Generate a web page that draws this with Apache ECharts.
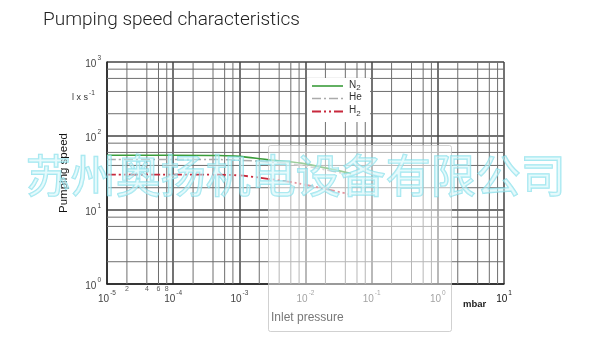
<!DOCTYPE html>
<html>
<head>
<meta charset="utf-8">
<script src="https://cdn.jsdelivr.net/npm/echarts@6/dist/echarts.min.js"></script>
<style>
html,body{margin:0;padding:0;background:#fff;}
#chart{width:595px;height:356px;}
</style>
</head>
<body>
<div id="chart"></div>
<script>
// ---- data ----
const pressureN2 = [1e-5, 1e-4, 5e-4, 1e-3, 2.6e-3, 8.6e-3, 0.049];
const speedN2    = [55, 55, 54.5, 53, 48, 43, 31];
const pressureHe = [1e-5, 1e-4, 5e-4, 1e-3, 2.7e-3, 8e-3, 0.03, 0.042];
const speedHe    = [48, 48, 48, 47, 45, 40.5, 32.5, 30.5];
const pressureH2 = [1e-5, 1e-4, 5e-4, 1e-3, 2e-3, 8e-3, 0.044];
const speedH2    = [30, 30, 30, 29.3, 27.4, 22.8, 16.5];
const seriesNames = ['N2', 'He', 'H2'];
const xTickExponents = ['-5', '-4', '-3', '-2', '-1', '0', '1'];
const yTickExponents = ['0', '1', '2', '3'];
const xDecades = [-5, -4, -3, -2, -1, 0];
const yDecades = [0, 1, 2];
const minorFactors = [2, 4, 6, 8];
const minorLabelValues = [2e-5, 4e-5, 6e-5, 8e-5];
const minorLabels = ['2', '4', '6', '8'];
const titleText = 'Pumping speed characteristics';
const yName = 'Pumping speed';
const unitText = 'l x s';
const unitSup = '-1';
const xUnit = 'mbar';
const overlayText = 'Inlet pressure';
const watermark = '苏州奥扬机电设备有限公司';

const X_MIN = 1e-5, X_MAX = 10, Y_MIN = 1, Y_MAX = 1000;
const colors = { N2: '#3b9d3b', He: '#aaaaaa', H2: '#c8283c' };
const dashes = { N2: null, He: [9, 3, 2, 3], H2: [9, 3, 2, 3, 2, 3] };
const widths = { N2: 1.6, He: 1.5, H2: 1.8 };

function zip(a, b) { return a.map((v, i) => [v, b[i]]); }
function expOf(v) { return Math.round(Math.log10(v)); }

const xMinor = [];
xDecades.forEach(d => minorFactors.forEach(f => xMinor.push(f * Math.pow(10, d))));
const yMinor = [];
yDecades.forEach(d => minorFactors.forEach(f => yMinor.push(f * Math.pow(10, d))));

const series = [];
function minorLine(data) {
  return {
    type: 'line', data: data, symbol: 'none', silent: true, z: 1,
    lineStyle: { color: '#6e6e6e', width: 1, type: 'solid' }
  };
}
xMinor.forEach(v => series.push(minorLine([[v, Y_MIN], [v, Y_MAX]])));
yMinor.forEach(v => series.push(minorLine([[X_MIN, v], [X_MAX, v]])));
series.push({
  type: 'scatter', data: minorLabelValues.map((v, i) => [v, Y_MIN, minorLabels[i]]),
  symbolSize: 1, itemStyle: { color: 'transparent' }, silent: true, z: 3,
  label: { show: true, position: 'bottom', distance: 1, formatter: p => p.data[2],
    fontSize: 7, color: '#333', fontFamily: 'Liberation Sans' }
});
const curves = { N2: zip(pressureN2, speedN2), He: zip(pressureHe, speedHe), H2: zip(pressureH2, speedH2) };
seriesNames.forEach((n, i) => series.push({
  name: n, type: 'line', data: curves[n], smooth: 0.3, symbol: 'none', z: i === 0 ? 5 : 4,
  lineStyle: { color: colors[n], width: widths[n], type: dashes[n] || 'solid' }
}));

const supRich = {
  b: { fontSize: 10, color: '#444', fontFamily: 'Liberation Sans', verticalAlign: 'bottom', lineHeight: 14 },
  s: { fontSize: 6.5, color: '#444', fontFamily: 'Liberation Sans', verticalAlign: 'top', lineHeight: 14, padding: [0, 0, 0, 1] },
  bk: { fontSize: 10, color: '#111', fontFamily: 'Liberation Sans', verticalAlign: 'bottom', lineHeight: 14 },
  sk: { fontSize: 6.5, color: '#111', fontFamily: 'Liberation Sans', verticalAlign: 'top', lineHeight: 14, padding: [0, 0, 0, 1] }
};

// legend drawn as graphic
const legendGraphics = [
  { type: 'rect', z: 50, shape: { x: 307, y: 78, width: 63, height: 44 }, style: { fill: '#fff' } }
];
const legendRowsY = [86, 98.5, 111.5];
seriesNames.forEach((n, i) => {
  legendGraphics.push({
    type: 'line', z: 51,
    shape: { x1: 312, y1: legendRowsY[i], x2: 343, y2: legendRowsY[i] },
    style: { stroke: colors[n], lineWidth: widths[n], lineDash: dashes[n] }
  });
  legendGraphics.push({
    type: 'text', z: 51, x: 349, y: legendRowsY[i],
    style: {
      text: n.length === 2 && n[1] === '2' ? '{m|' + n[0] + '}{sub|2}' : '{m|' + n + '}',
      verticalAlign: 'middle',
      rich: {
        m: { fontSize: 10, fill: '#333', fontFamily: 'Liberation Sans', verticalAlign: 'top', lineHeight: 12 },
        sub: { fontSize: 8, fill: '#333', fontFamily: 'Liberation Sans', verticalAlign: 'bottom', lineHeight: 12 }
      }
    }
  });
});

const chart = echarts.init(document.getElementById('chart'), null, { renderer: 'canvas' });

const option = {
  animation: false,
  backgroundColor: '#fff',
  grid: { left: 107, right: 91, top: 62, bottom: 72, containLabel: false },
  xAxis: {
    type: 'log', logBase: 10, min: X_MIN, max: X_MAX, splitNumber: 6,
    axisLine: { show: true, lineStyle: { color: '#222', width: 1.5 } },
    axisTick: { show: false },
    splitLine: { show: true, lineStyle: { color: '#444', width: 1.5 } },
    axisLabel: {
      margin: 6,
      formatter: v => {
        const e = String(expOf(v));
        const i = xTickExponents.indexOf(e);
        if (i === xTickExponents.length - 1) return '{bk|10}{sk|' + e + '}';
        return '{b|10}{s|' + e + '}';
      },
      rich: supRich
    }
  },
  yAxis: {
    type: 'log', logBase: 10, min: Y_MIN, max: Y_MAX, splitNumber: 3,
    name: yName, nameLocation: 'middle', nameGap: 37, nameRotate: 90,
    nameTextStyle: { fontSize: 11.5, color: '#111', fontFamily: 'Liberation Sans' },
    axisLine: { show: true, lineStyle: { color: '#222', width: 1.5 } },
    axisTick: { show: false },
    splitLine: { show: true, lineStyle: { color: '#444', width: 1.5 } },
    axisLabel: {
      margin: 6,
      formatter: v => {
        const e = String(expOf(v));
        return yTickExponents.indexOf(e) >= 0 ? '{b|10}{s|' + e + '}' : '';
      },
      rich: supRich
    }
  },
  series: series,
  graphic: legendGraphics.concat([
    {
      type: 'text', left: 43, top: 11, z: 10,
      style: { text: titleText, font: '300 19px Roboto', fill: '#222' }
    },
    {
      type: 'text', left: 72, top: 90, z: 10,
      style: {
        text: '{a|' + unitText + '}{s|' + unitSup + '}',
        rich: {
          a: { fontSize: 9, fontFamily: 'Liberation Sans', fill: '#333', verticalAlign: 'bottom', lineHeight: 12 },
          s: { fontSize: 6.5, fontFamily: 'Liberation Sans', fill: '#333', verticalAlign: 'top', lineHeight: 12, padding: [0, 0, 0, 1] }
        }
      }
    },
    {
      type: 'text', left: 463, top: 299, z: 10,
      style: { text: xUnit, font: 'bold 9.5px "Liberation Sans"', fill: '#222' }
    },
    {
      type: 'rect', z: 100, silent: true,
      shape: { x: 268.5, y: 145.5, width: 183, height: 186, r: 2 },
      style: { fill: 'rgba(255,255,255,0.5)', stroke: 'rgba(190,190,190,0.7)', lineWidth: 1 }
    },
    {
      type: 'text', left: 271, top: 312, z: 101,
      style: { text: overlayText, font: '12px "Liberation Sans"', fill: '#777' }
    },
    {
      type: 'text', left: 25, top: 153, z: 102, silent: true,
      style: {
        text: watermark, font: '45px "Noto Sans CJK SC"',
        fill: 'rgba(205,245,250,0.5)', stroke: 'rgba(120,220,232,0.7)', lineWidth: 1.4
      }
    }
  ])
};
chart.setOption(option);
</script>
</body>
</html>
